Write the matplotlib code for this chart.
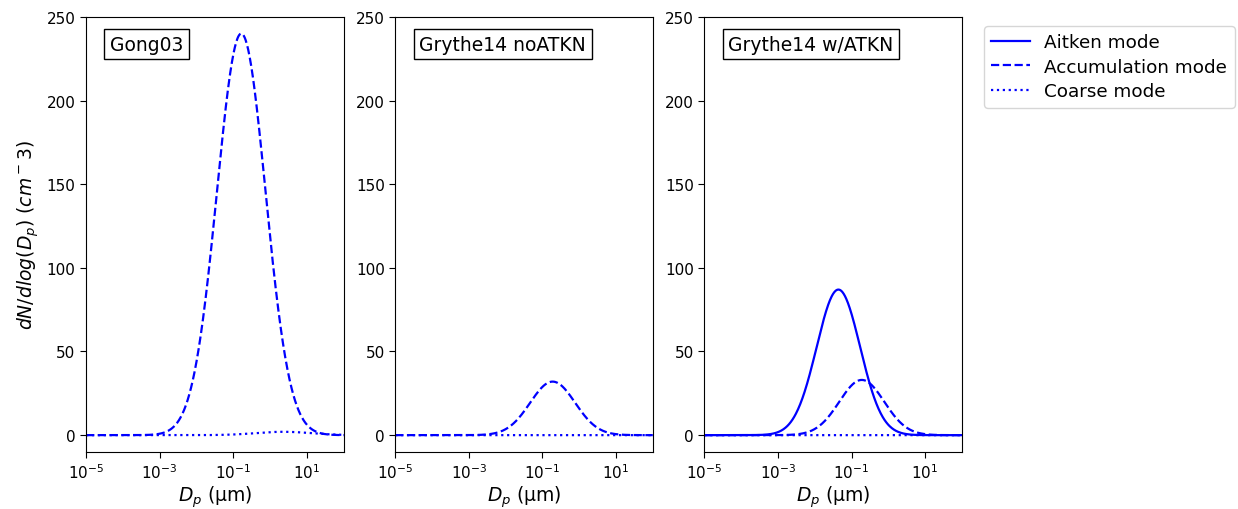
import numpy as np
import matplotlib
matplotlib.use("Agg")
import matplotlib.pyplot as plt
from matplotlib.ticker import FixedLocator, NullLocator, LogFormatterSciNotation

# Source function names shown in each panel
schemes = ["Gong03", "Grythe14 noATKN", "Grythe14 w/ATKN"]
mode_names = ["Aitken mode", "Accumulation mode", "Coarse mode"]
mode_styles = ["-", "--", ":"]

# Lognormal mode parameters per scheme: peak dN/dlog(Dp) (cm^-3),
# median diameter (um) and width (decades, log10 of geometric std).
# None marks a mode that the scheme does not include.
gong03_peak = [None, 240.0, 2.0]
gong03_dmed = [None, 0.165, 2.3]
gong03_width = [None, 0.66, 0.75]

grythe_no_peak = [None, 32.0, 0.05]
grythe_no_dmed = [None, 0.19, 2.0]
grythe_no_width = [None, 0.61, 0.5]

grythe_w_peak = [87.0, 33.0, 0.05]
grythe_w_dmed = [0.044, 0.19, 2.0]
grythe_w_width = [0.59, 0.61, 0.5]

peaks = [gong03_peak, grythe_no_peak, grythe_w_peak]
dmeds = [gong03_dmed, grythe_no_dmed, grythe_w_dmed]
widths = [gong03_width, grythe_no_width, grythe_w_width]

dp = np.logspace(-5, 2, 600)


def lognormal(d, peak, dm, s):
    return peak * np.exp(-0.5 * ((np.log10(d) - np.log10(dm)) / s) ** 2)


fig, axes = plt.subplots(1, 3, figsize=(12.38, 5.1), dpi=100)
fig.subplots_adjust(left=0.0695, right=0.777, bottom=0.112, top=0.965, wspace=0.2)

for ax, name, pk, dm, wd in zip(axes, schemes, peaks, dmeds, widths):
    for i in range(3):
        if pk[i] is None:
            continue
        ax.plot(dp, lognormal(dp, pk[i], dm[i], wd[i]), color="blue",
                linestyle=mode_styles[i], linewidth=1.6, label=mode_names[i])
    ax.set_xscale("log")
    ax.set_xlim(1e-5, 1e2)
    ax.set_ylim(-10, 250)
    ax.xaxis.set_major_locator(FixedLocator([1e-5, 1e-3, 1e-1, 1e1]))
    ax.xaxis.set_major_formatter(LogFormatterSciNotation())
    ax.xaxis.set_minor_locator(NullLocator())
    ax.set_yticks([0, 50, 100, 150, 200, 250])
    ax.tick_params(labelsize=11, length=4)
    ax.set_xlabel(r"$D_p$ (µm)", fontsize=13.5, labelpad=2)
    ax.text(0.093, 0.937, name, transform=ax.transAxes, fontsize=13.5,
            ha="left", va="center",
            bbox=dict(boxstyle="square,pad=0.3", facecolor="white", edgecolor="black"))

axes[0].set_ylabel(r"$dN/dlog(D_p)$ $(cm^-3)$", fontsize=13.5)

handles, labels = axes[2].get_legend_handles_labels()
axes[2].legend(handles, labels, loc="upper left", bbox_to_anchor=(1.05, 1),
               fontsize=13.2, labelspacing=0.35, handlelength=2.1)

fig.savefig("out.png", dpi=100)
